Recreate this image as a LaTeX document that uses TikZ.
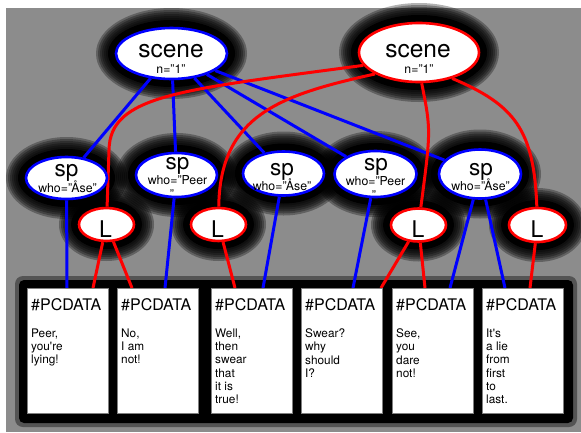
\documentclass[tikz,border=0pt]{standalone}
\usepackage{fontspec}
\setmainfont{TeX Gyre Heros}
\usetikzlibrary{shapes.geometric}
\pgfdeclarelayer{bgl}\pgfdeclarelayer{halol}\pgfdeclarelayer{edgel}
\pgfsetlayers{bgl,halol,edgel,main}
\definecolor{bl}{RGB}{0,0,255}
\definecolor{rd}{RGB}{255,0,0}
\newcommand\myhalo[3]{%
  \fill[black] (#1) ellipse [x radius={#2/2+8pt}, y radius={#3/2+8pt}];
  \foreach \r in {10,12,...,20}{%
    \fill[black,opacity=0.3] (#1) ellipse [x radius={#2/2+\r pt}, y radius={#3/2+\r pt}];}}
\begin{document}
\begin{tikzpicture}[x=1pt,y=-1pt,
  nd/.style={ellipse, fill=white, line width=2.6pt, inner sep=0pt},
  bnd/.style={nd, draw=bl}, rnd/.style={nd, draw=rd},
  bline/.style={draw=bl, line width=3pt},
  rline/.style={draw=rd, line width=3pt},
  databox/.style={rectangle, fill=white, draw=black!50, line width=0.5pt,
    minimum width=81pt, minimum height=125pt, anchor=north west, inner sep=0pt},
  hdr/.style={anchor=base west, inner sep=0pt, font=\fontsize{16}{19}\selectfont},
  bodytxt/.style={anchor=north west, inner sep=0pt, align=left,
    font=\fontsize{11.8}{13.3}\selectfont},
  bigtxt/.style={anchor=base, inner sep=0pt, font=\fontsize{24.5}{28}\selectfont},
  sptxt/.style={anchor=base, inner sep=0pt, font=\fontsize{22.5}{26}\selectfont},
  ltxt/.style={anchor=base, inner sep=0pt, font=\fontsize{23}{26}\selectfont},
  smalltxt/.style={anchor=base, inner sep=0pt, font=\fontsize{12.3}{14}\selectfont},
]
\useasboundingbox (0,0) rectangle (581,432);
\begin{pgfonlayer}{bgl}
  \fill[white] (0,0) rectangle (581,432);
  \fill[black!45] (6,8) rectangle (581,432);
  \fill[black,opacity=0.4,rounded corners=8pt] (15,276) rectangle (577,427);
  \fill[black,rounded corners=5pt] (19,280) rectangle (573,423);
\end{pgfonlayer}

% ellipse nodes
\node[bnd, minimum width=111pt, minimum height=51pt] (bs) at (171.5,53.5) {};
\node[rnd, minimum width=120pt, minimum height=59pt] (rs) at (419,52.5) {};
\node[bnd, minimum width=81pt, minimum height=42pt] (sp1) at (66.5,178) {};
\node[bnd, minimum width=81pt, minimum height=44pt] (sp2) at (176.5,175) {};
\node[bnd, minimum width=81pt, minimum height=44pt] (sp3) at (283.5,173.5) {};
\node[bnd, minimum width=82pt, minimum height=46pt] (sp4) at (375.5,174) {};
\node[bnd, minimum width=82pt, minimum height=49pt] (sp5) at (480,174) {};
\node[rnd, minimum width=55pt, minimum height=33pt] (L1) at (106.5,224.5) {};
\node[rnd, minimum width=55pt, minimum height=33pt] (L2) at (218.5,224.5) {};
\node[rnd, minimum width=55pt, minimum height=33pt] (L3) at (418.5,225) {};
\node[rnd, minimum width=57pt, minimum height=34pt] (L4) at (537.5,225) {};

% halos
\begin{pgfonlayer}{halol}
  \myhalo{bs}{111pt}{51pt}
  \myhalo{rs}{120pt}{59pt}
  \myhalo{sp1}{81pt}{42pt}
  \myhalo{sp2}{81pt}{44pt}
  \myhalo{sp3}{81pt}{44pt}
  \myhalo{sp4}{82pt}{46pt}
  \myhalo{sp5}{82pt}{49pt}
  \myhalo{L1}{55pt}{33pt}
  \myhalo{L2}{55pt}{33pt}
  \myhalo{L3}{55pt}{33pt}
  \myhalo{L4}{57pt}{34pt}
\end{pgfonlayer}

% texts in ellipses
\node[bigtxt] (bsa) at (171,57) {scene};
\node[smalltxt] (bsb) at (171,73) {n="1"};
\node[bigtxt] (rsa) at (418,57) {scene};
\node[smalltxt] (rsb) at (419,73) {n="1"};
\node[sptxt] (sp1a) at (66.5,176) {sp};
\node[smalltxt] (sp1b) at (67.5,192) {who="Åse"};
\node[sptxt] (sp2a) at (177.5,169) {sp};
\node[smalltxt] (sp2b) at (177.5,184) {who="Peer};
\node[smalltxt] (sp2c) at (172,198) {"};
\node[sptxt] (sp3a) at (282,175) {sp};
\node[smalltxt] (sp3b) at (282,190) {who="Åse"};
\node[sptxt] (sp4a) at (376,170) {sp};
\node[smalltxt] (sp4b) at (375.5,185) {who="Peer};
\node[smalltxt] (sp4c) at (374,199) {"};
\node[sptxt] (sp5a) at (481,175) {sp};
\node[smalltxt] (sp5b) at (480.5,190) {who="Åse"};
\node[ltxt] (L1a) at (105.5,237) {L};
\node[ltxt] (L2a) at (217.5,237) {L};
\node[ltxt] (L3a) at (418,237.5) {L};
\node[ltxt] (L4a) at (537,237.5) {L};

% data boxes
\node[databox] (b1) at (27,288) {};
\node[databox] (b2) at (117,288) {};
\node[databox] (b3) at (211,288) {};
\node[databox] (b4) at (301,288) {};
\node[databox] (b5) at (392,288) {};
\node[databox] (b6) at (482,288) {};
\foreach \b in {1,...,6}{
  \node[hdr] (h\b) at ([shift={(4pt,-22pt)}]b\b.north west) {\#PCDATA};
}
\node[bodytxt] (t1) at ([shift={(4pt,-40.5pt)}]b1.north west) {Peer,\\you\textquotesingle re\\lying!};
\node[bodytxt] (t2) at ([shift={(4pt,-40.5pt)}]b2.north west) {No,\\I am\\not!};
\node[bodytxt] (t3) at ([shift={(4pt,-40.5pt)}]b3.north west) {Well,\\then\\swear\\that\\it is\\true!};
\node[bodytxt] (t4) at ([shift={(4pt,-40.5pt)}]b4.north west) {Swear?\\why\\should\\I?};
\node[bodytxt] (t5) at ([shift={(4pt,-40.5pt)}]b5.north west) {See,\\you\\dare\\not!};
\node[bodytxt] (t6) at ([shift={(4pt,-40.5pt)}]b6.north west) {It\textquotesingle s\\a lie\\from\\first\\to\\last.};

% connectors
\begin{pgfonlayer}{edgel}
  \draw[bline] (bs) -- (sp1);
  \draw[bline] (bs) -- (sp2);
  \draw[bline] (bs) -- (sp3);
  \draw[bline] (bs) -- (sp4);
  \draw[bline] (bs) -- (sp5);
  \draw[bline] (sp1) -- ([xshift=40pt]b1.north west);
  \draw[bline] (sp2) -- ([xshift=48pt]b2.north west);
  \draw[bline] (sp3) -- ([xshift=52pt]b3.north west);
  \draw[bline] (sp4) -- ([xshift=52pt]b4.north west);
  \draw[bline] (sp5) -- ([xshift=58pt]b5.north west);
  \draw[bline] (sp5) -- ([xshift=23pt]b6.north west);
  \draw[rline] (rs.193) .. controls (180,90) and (110,95) .. (109,150) -- (L1);
  \draw[rline] (rs.206) .. controls (280,95) and (220,115) .. (L2);
  \draw[rline] (rs.275) .. controls (431,130) .. (L3);
  \draw[rline] (rs.322) .. controls (515,105) and (534,130) .. (L4);
  \draw[rline] (L1) -- ([xshift=66pt]b1.north west);
  \draw[rline] (L1) -- ([xshift=15pt]b2.north west);
  \draw[rline] (L2) -- ([xshift=24pt]b3.north west);
  \draw[rline] (L3) -- ([xshift=80pt]b4.north west);
  \draw[rline] (L3) -- ([xshift=33pt]b5.north west);
  \draw[rline] (L4) -- ([xshift=48pt]b6.north west);
\end{pgfonlayer}
\end{tikzpicture}
\end{document}
